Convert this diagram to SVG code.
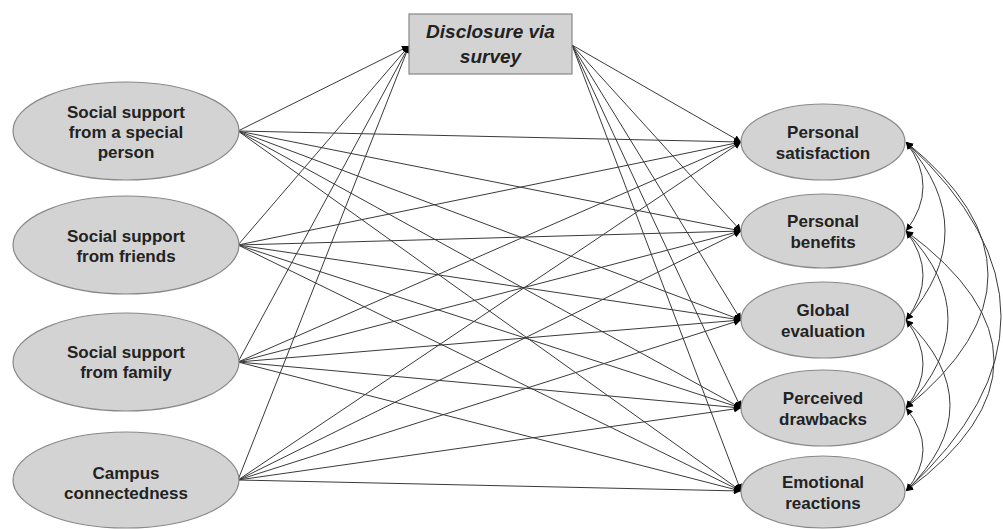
<svg xmlns="http://www.w3.org/2000/svg" width="1003" height="529" viewBox="0 0 1003 529">
<style>
.node{fill:#d3d3d3;stroke:#888;stroke-width:1.2}
.lbl{font-family:"Liberation Sans",Arial,sans-serif;font-weight:bold;font-size:17px;fill:#222;text-anchor:middle}
.box{font-family:"Liberation Sans",Arial,sans-serif;font-weight:bold;font-style:italic;font-size:19px;fill:#222;text-anchor:middle}
.e{fill:none;stroke:#3a3a3a;stroke-width:1;marker-end:url(#ah)}
.c{fill:none;stroke:#3a3a3a;stroke-width:1;marker-start:url(#ah);marker-end:url(#ah)}
</style>
<defs>
<marker id="ah" markerUnits="userSpaceOnUse" markerWidth="8" markerHeight="8" refX="7" refY="3.5" orient="auto-start-reverse" viewBox="0 0 8 7">
<path d="M0,0 L7,3.5 L0,7 Z" fill="#000"/>
</marker>
</defs>
<rect width="1003" height="529" fill="#fff"/>
<g id="connectors">
<line class="e" x1="238" y1="131" x2="409" y2="46"/>
<line class="e" x1="238" y1="245" x2="409" y2="46"/>
<line class="e" x1="238" y1="362" x2="409" y2="46"/>
<line class="e" x1="238" y1="480" x2="409" y2="46"/>
<line class="e" x1="572" y1="45" x2="741" y2="142"/>
<line class="e" x1="572" y1="45" x2="741" y2="231"/>
<line class="e" x1="572" y1="45" x2="741" y2="320"/>
<line class="e" x1="572" y1="45" x2="741" y2="408"/>
<line class="e" x1="572" y1="45" x2="741" y2="491"/>
<line class="e" x1="238" y1="131" x2="741" y2="142"/>
<line class="e" x1="238" y1="131" x2="741" y2="231"/>
<line class="e" x1="238" y1="131" x2="741" y2="320"/>
<line class="e" x1="238" y1="131" x2="741" y2="408"/>
<line class="e" x1="238" y1="131" x2="741" y2="491"/>
<line class="e" x1="238" y1="245" x2="741" y2="142"/>
<line class="e" x1="238" y1="245" x2="741" y2="231"/>
<line class="e" x1="238" y1="245" x2="741" y2="320"/>
<line class="e" x1="238" y1="245" x2="741" y2="408"/>
<line class="e" x1="238" y1="245" x2="741" y2="491"/>
<line class="e" x1="238" y1="362" x2="741" y2="142"/>
<line class="e" x1="238" y1="362" x2="741" y2="231"/>
<line class="e" x1="238" y1="362" x2="741" y2="320"/>
<line class="e" x1="238" y1="362" x2="741" y2="408"/>
<line class="e" x1="238" y1="362" x2="741" y2="491"/>
<line class="e" x1="238" y1="480" x2="741" y2="142"/>
<line class="e" x1="238" y1="480" x2="741" y2="231"/>
<line class="e" x1="238" y1="480" x2="741" y2="320"/>
<line class="e" x1="238" y1="480" x2="741" y2="408"/>
<line class="e" x1="238" y1="480" x2="741" y2="491"/>
<path class="c" d="M906,142 Q940,186.5 906,231"/>
<path class="c" d="M906,231 Q940,275.5 906,320"/>
<path class="c" d="M906,320 Q940,364 906,408"/>
<path class="c" d="M906,408 Q940,449.5 906,491"/>
<path class="c" d="M906,142 Q984,231 906,320"/>
<path class="c" d="M906,231 Q990,319.5 906,408"/>
<path class="c" d="M906,320 Q994,405.5 906,491"/>
<path class="c" d="M906,142 Q1070,275 906,408"/>
<path class="c" d="M906,231 Q1082,361 906,491"/>
<path class="c" d="M906,142 Q1096,316.5 906,491"/>
</g>
<g id="disclosure">
<rect class="node" x="409" y="14" width="163" height="60"/>
<text class="box" x="490.5" y="38">Disclosure via</text>
<text class="box" x="490.5" y="63">survey</text>
</g>
<g id="ss-special">
<ellipse class="node" cx="126" cy="131" rx="113" ry="49"/>
<text class="lbl" x="126" y="118">Social support</text>
<text class="lbl" x="126" y="138">from a special</text>
<text class="lbl" x="126" y="158">person</text>
</g>
<g id="ss-friends">
<ellipse class="node" cx="126" cy="245" rx="113" ry="49"/>
<text class="lbl" x="126" y="242">Social support</text>
<text class="lbl" x="126" y="262">from friends</text>
</g>
<g id="ss-family">
<ellipse class="node" cx="126" cy="362" rx="113" ry="49"/>
<text class="lbl" x="126" y="358">Social support</text>
<text class="lbl" x="126" y="378">from family</text>
</g>
<g id="campus">
<ellipse class="node" cx="126" cy="480" rx="113" ry="48"/>
<text class="lbl" x="126" y="479">Campus</text>
<text class="lbl" x="126" y="499">connectedness</text>
</g>
<g id="satisfaction">
<ellipse class="node" cx="823" cy="142" rx="82" ry="38"/>
<text class="lbl" x="823" y="138">Personal</text>
<text class="lbl" x="823" y="159">satisfaction</text>
</g>
<g id="benefits">
<ellipse class="node" cx="823" cy="231" rx="82" ry="37"/>
<text class="lbl" x="823" y="227">Personal</text>
<text class="lbl" x="823" y="248">benefits</text>
</g>
<g id="global">
<ellipse class="node" cx="823" cy="320" rx="82" ry="38"/>
<text class="lbl" x="823" y="316">Global</text>
<text class="lbl" x="823" y="337">evaluation</text>
</g>
<g id="drawbacks">
<ellipse class="node" cx="823" cy="408" rx="82" ry="38"/>
<text class="lbl" x="823" y="404">Perceived</text>
<text class="lbl" x="823" y="425">drawbacks</text>
</g>
<g id="emotional">
<ellipse class="node" cx="823" cy="492" rx="82" ry="36"/>
<text class="lbl" x="823" y="488">Emotional</text>
<text class="lbl" x="823" y="509">reactions</text>
</g>
</svg>
